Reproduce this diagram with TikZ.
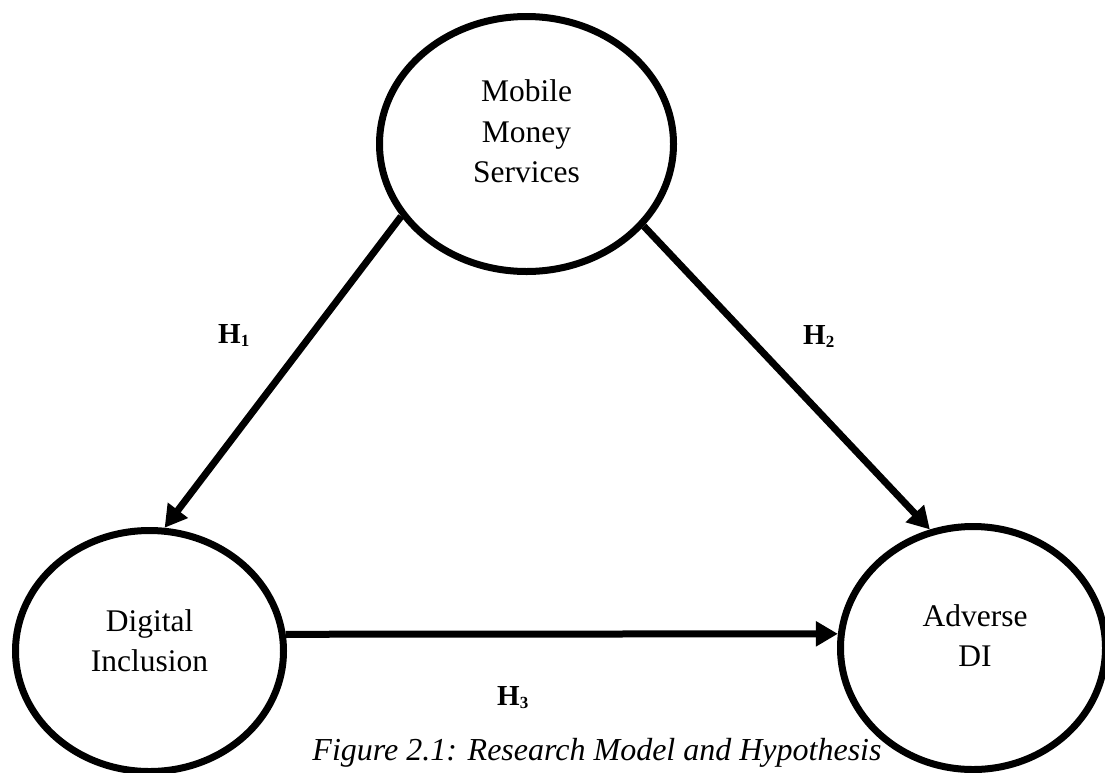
\documentclass[tikz,border=0pt]{standalone}
\usepackage{fontspec}
\setmainfont{Liberation Serif}
\usetikzlibrary{arrows.meta,shapes.geometric}
\newcommand{\hsub}[1]{\raisebox{-3pt}{\fontsize{17}{17}\selectfont\bfseries #1}}
\begin{document}
\begin{tikzpicture}[x=1pt,y=-1pt,
  oval/.style={draw=black, line width=7pt, ellipse, inner sep=0pt},
  lbl/.style={font=\fontsize{31.5}{40.5}\selectfont, align=center, inner sep=0pt},
  hyp/.style={font=\fontsize{29}{29}\selectfont\bfseries, inner sep=0pt},
  figcaption/.style={font=\fontsize{32}{40}\selectfont\itshape, inner sep=0pt},
  link/.style={line width=7pt, -{Triangle[length=22pt,width=24pt]}}]
\useasboundingbox (0,0) rectangle (1105,772);
\node[oval, minimum width=294pt, minimum height=255pt] (mms) at (526.5,144) {};
\node[oval, minimum width=268pt, minimum height=241pt] (di) at (149.5,651) {};
\node[oval, minimum width=265pt, minimum height=243pt] (ad) at (973,648) {};
\node[lbl, anchor=base] (tmms) at (526.5,182.7) {Mobile\\Money\\Services};
\node[lbl, anchor=base] (tdi) at (149.5,671.7) {Digital\\Inclusion};
\node[lbl, anchor=base] (tad) at (975,666.7) {Adverse\\DI};
\draw[link] (mms.210.4) -- (di.83);
\draw[link] (mms.325) -- (ad.110.5);
\draw[link] (di.7) -- (ad.174);
\node[hyp, anchor=base west] (h1) at (218,343) {H\hsub{1}};
\node[hyp, anchor=base west] (h2) at (803,344) {H\hsub{2}};
\node[hyp, anchor=base west] (h3) at (497,705) {H\hsub{3}};
\node[figcaption, anchor=base] (caption) at (597,760) {Figure 2.1: Research Model and Hypothesis};
\end{tikzpicture}
\end{document}
